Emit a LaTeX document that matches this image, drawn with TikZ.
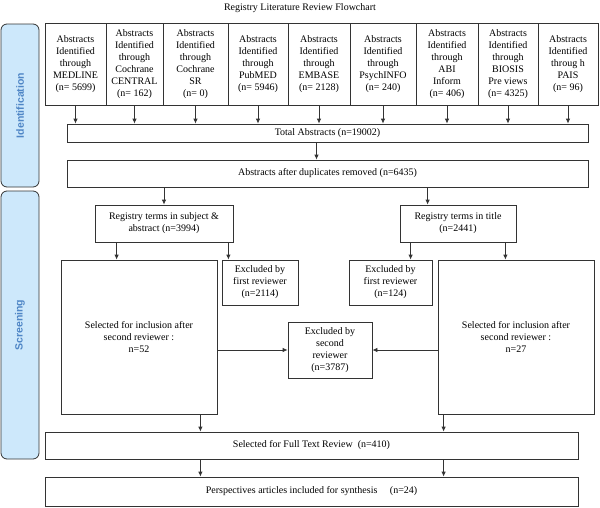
\documentclass[tikz,border=0pt]{standalone}
\usepackage{fontspec}
\setmainfont{Liberation Serif}
\setsansfont{Liberation Sans}
\usepackage{xcolor}
\usetikzlibrary{arrows.meta}
\definecolor{barfill}{HTML}{CDE8FB}
\definecolor{bartext}{HTML}{4F86C6}
\definecolor{edge}{HTML}{333333}

\begin{document}
\begin{tikzpicture}[x=1pt,y=-1pt,
  box/.style={draw=edge,line width=0.8pt,rectangle,inner sep=0pt,align=center,
    font=\fontsize{10}{12}\selectfont},
  bar/.style={draw=edge,line width=0.8pt,fill=barfill,rounded corners=6pt,inner sep=0pt,
    minimum width=38pt,text=bartext,font=\sffamily\bfseries\fontsize{10.5}{12}\selectfont},
  arr/.style={-{Latex[length=5pt,width=4.5pt]},edge,line width=0.8pt}]
\useasboundingbox (0,0) rectangle (600,507);

\node[font=\fontsize{10}{12}\selectfont] (title) at (300,8) {Registry Literature Review Flowchart};

% side bars %
\node[bar,minimum height=163pt] (ident) at (20,105.5) {\rotatebox{90}{Identification}};
\node[bar,minimum height=268pt] (screen) at (20,325) {\rotatebox{90}{Screening}};

% sources %
\foreach \i/\xa/\xb/\txt in {
  1/45/106/{Abstracts\\Identified\\through\\MEDLINE\\(n= 5699)},
  2/106/163/{Abstracts\\Identified\\through\\Cochrane\\CENTRAL\\(n= 162)},
  3/163/228/{Abstracts\\Identified\\through\\Cochrane\\SR\\(n= 0)},
  4/228/288/{Abstracts\\Identified\\through\\PubMED\\(n= 5946)},
  5/288/350/{Abstracts\\Identified\\through\\EMBASE\\(n= 2128)},
  6/350/416/{Abstracts\\Identified\\through\\PsychINFO\\(n= 240)},
  7/416/478/{Abstracts\\Identified\\through\\ABI\\Inform\\(n= 406)},
  8/478/538/{Abstracts\\Identified\\through\\BIOSIS\\Pre views\\(n= 4325)},
  9/538/598/{Abstracts\\Identified\\throug h\\PAIS\\(n= 96)}}{
  \pgfmathsetmacro\xc{(\xa+\xb)/2}
  \pgfmathsetmacro\bw{\xb-\xa}
  \node[box,minimum width=\bw pt,minimum height=82pt] (src\i) at (\xc,64) {\txt};
}

\node[box,minimum width=521pt,minimum height=18pt] (total) at (327.5,133) {Total Abstracts (n=19002)};
\node[box,minimum width=521pt,minimum height=27pt] (dedup) at (327.5,173.5) {Abstracts after duplicates removed (n=6435)};

\foreach \i in {1,...,9}
  \draw[arr] (src\i.south) -- (src\i.south |- total.north);
\draw[arr] ([xshift=-11pt]total.south) -- ([xshift=-11pt]total.south |- dedup.north);

% two search branches %
\node[box,minimum width=138pt,minimum height=37pt] (subj) at (164,223.5) {Registry terms in subject \&\\abstract (n=3994)};
\node[box,minimum width=116pt,minimum height=37pt] (ttl) at (458,223.5) {Registry terms in title\\(n=2441)};
\coordinate (d2) at ([xshift=28pt]ttl.north west);
\draw[arr] (dedup.south -| subj.north) -- (subj.north);
\draw[arr] (dedup.south -| d2) -- (d2);

\node[box,minimum width=156pt,minimum height=154pt] (selL) at (139,337) {Selected for inclusion after\\second reviewer :\\n=52};
\node[box,minimum width=76pt,minimum height=45pt] (excL) at (260,282.5) {Excluded by\\first reviewer\\(n=2114)};
\node[box,minimum width=83pt,minimum height=45pt] (excR) at (390.5,282.5) {Excluded by\\first reviewer\\(n=124)};
\node[box,minimum width=156pt,minimum height=154pt] (selR) at (516,337) {Selected for inclusion after\\second reviewer :\\n=27};
\node[box,minimum width=84pt,minimum height=56pt] (exc2) at (330,350) {Excluded by\\second\\reviewer\\(n=3787)};

\coordinate (s1) at ([xshift=22pt]subj.south west);
\coordinate (s2) at ([xshift=-5pt]subj.south east);
\coordinate (t1) at ([xshift=11pt]ttl.south west);
\coordinate (t2) at ([xshift=-11pt]ttl.south east);
\draw[arr] (s1) -- (s1 |- selL.north);
\draw[arr] (s2) -- (s2 |- excL.north);
\draw[arr] (t1) -- (t1 |- excR.north);
\draw[arr] (t2) -- (t2 |- selR.north);
\draw[arr] (selL.east |- exc2.west) -- (exc2.west);
\draw[arr] (selR.west |- exc2.east) -- (exc2.east);

% full text and synthesis %
\node[box,minimum width=533pt,minimum height=27pt] (full) at (311.5,445.5) {Selected for Full Text Review\ \ (n=410)};
\node[box,minimum width=533pt,minimum height=29pt] (synth) at (311.5,491.5) {Perspectives articles included for synthesis\ \ \ \ \ (n=24)};

\coordinate (pL) at ([xshift=-17pt]selL.south east);
\coordinate (pR) at ([xshift=6pt]selR.south west);
\draw[arr] (pL) -- (pL |- full.north);
\draw[arr] (pR) -- (pR |- full.north);
\draw[arr] (pL |- full.south) -- (pL |- synth.north);
\draw[arr] (pR |- full.south) -- (pR |- synth.north);

\end{tikzpicture}
\end{document}
